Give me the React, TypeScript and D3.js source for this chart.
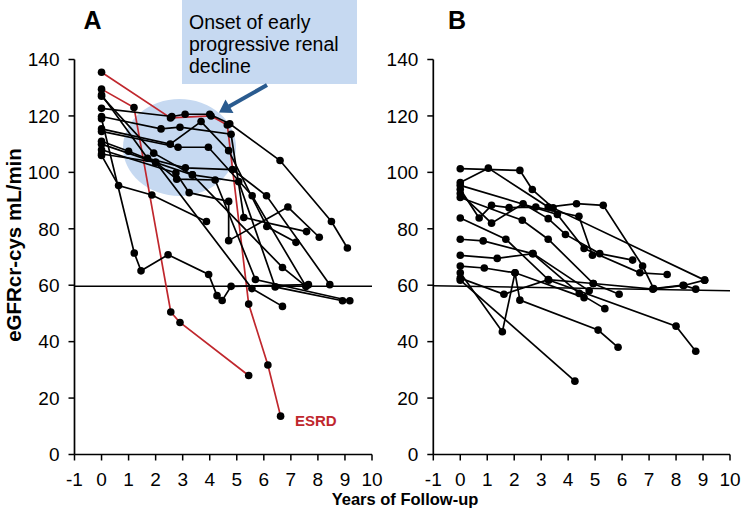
import React from "react";
import * as d3 from "d3";

const W = 745;
const H = 522;
const xTicks = [-1, 0, 1, 2, 3, 4, 5, 6, 7, 8, 9, 10];
const yTicks = [0, 20, 40, 60, 80, 100, 120, 140];
const xTitle = "Years of Follow-up";
const yTitle = "eGFRcr-cys mL/min";
const annotationLines = ["Onset of early", "progressive renal", "decline"];
const esrdLabel = "ESRD";
const thresholdA: [number, number][] = [[-1, 59.6], [10, 59.6]];
const thresholdB: [number, number][] = [[-1, 59.8], [10, 58.0]];

// Panel A, black patients [years, eGFR]
const blackA: [number, number][][] = [
  [[0, 122.7], [2.6, 119.8], [3.09, 120.6], [4.0, 120.6], [4.74, 117.2], [6.6, 104.2], [8.5, 82.6], [9.09, 73.2]],
  [[0, 119.8], [2.2, 115.4], [2.9, 116], [4.79, 113.5], [5.26, 84], [7.58, 79]],
  [[0, 115.4], [2.54, 110], [3.68, 118], [4.7, 107.7], [6.11, 80.8], [7.19, 75.2]],
  [[0, 114.5], [2.83, 108.9], [3.95, 108.9], [5.57, 91.7], [7.56, 59.6]],
  [[0, 127.5], [1.7, 105], [3.1, 101.6], [4.84, 101], [6.1, 91.7], [8.44, 60.2]],
  [[0, 127], [1.93, 106.8], [3.36, 99.1], [5.07, 96.7], [6.42, 59.4], [8.91, 54.5]],
  [[0, 111], [1.0, 107.5], [2.0, 103.6], [2.78, 97.6], [4.2, 97.3], [5.69, 62], [9.18, 54.5]],
  [[0, 108], [2.75, 99.8], [3.24, 92.8], [4.7, 89.7], [4.7, 75.8], [6.89, 87.7], [8.05, 77]],
  [[0, 106], [0.63, 95.3], [1.86, 92], [3.88, 82.6]],
  [[0, 119], [1.21, 71.4], [1.46, 65.1], [2.46, 70.8], [3.96, 63.8], [4.27, 56.3], [4.46, 54.6], [4.79, 59.6], [7.65, 60.2]],
  [[0, 106.5], [2.0, 103.6], [5.56, 58.8], [6.69, 52.5]],
  [[0, 110], [3.36, 99.1], [6.69, 66.3], [7.56, 59.6]],
];

// Panel A, red patients (progressed to ESRD)
const redA: [number, number][][] = [
  [[0, 135.5], [2.55, 119.3], [4.05, 120.0], [4.65, 116.8], [5.44, 53.3], [6.15, 31.7], [6.62, 13.6]],
  [[0, 129.5], [1.2, 123], [2.56, 50.5], [2.9, 46.8], [5.44, 28]],
];

// Panel B patients
const linesB: [number, number][][] = [
  [[0, 101.3], [2.21, 100.7], [2.67, 93.9], [3.44, 87.4], [9.06, 61.8]],
  [[0, 96.4], [1.04, 101.5], [3.26, 87.7], [4.31, 88.9], [5.3, 88.3], [6.76, 66.8], [7.17, 58.8], [8.26, 60], [8.73, 58.6]],
  [[0, 95.4], [3.6, 85.1], [4.59, 73], [6.66, 64.4], [7.67, 63.8]],
  [[0, 94], [0.7, 83.8], [1.16, 88.3], [1.81, 87.5], [2.8, 87.7], [4.4, 84.4], [4.9, 70.6]],
  [[0, 92.5], [1.16, 82], [2.33, 88.9], [3.26, 83.6], [3.9, 78], [5.17, 71.2], [6.39, 68.9]],
  [[0, 91.1], [2.3, 83], [3.26, 76.3], [4.93, 60.6], [5.89, 56.8]],
  [[0, 83.8], [1.69, 76.3], [3.28, 61.8], [8.0, 45.5], [8.73, 36.6]],
  [[0, 76.3], [0.85, 75.7], [2.68, 71.2], [4.41, 57.1], [5.36, 51.7]],
  [[0, 70.6], [1.37, 69.5], [2.7, 71.2], [4.78, 58]],
  [[0, 66.8], [0.89, 66.1], [2.03, 64.4], [4.59, 55.6]],
  [[0, 64.4], [1.56, 43.5], [2.03, 64.4], [2.21, 54.7], [5.11, 44.1], [5.85, 38]],
  [[0, 61.8], [4.25, 26]],
  [[0, 62.5], [1.62, 56.8], [3.26, 62], [4.93, 60.6], [7.14, 58.6], [8.29, 59.9], [9.06, 61.8]],
];

const FONT = "'Liberation Sans', Arial, Helvetica, sans-serif";
const RED = "#c0272d";

const yScale = d3.scaleLinear().domain([0, 140]).range([454.5, 59.5]);
const xA = d3.scaleLinear().domain([-1, 10]).range([74.5, 372]);
const xB = d3.scaleLinear().domain([-1, 10]).range([433.3, 730]);

function Axes({ x }: { x: d3.ScaleLinear<number, number> }) {
  const x0 = x(-1);
  const y0 = yScale(0);
  return (
    <g>
      <line x1={x0} x2={x0} y1={yScale(140)} y2={y0} stroke="#000" strokeWidth={1.7} />
      <line x1={x0} x2={x(10)} y1={y0} y2={y0} stroke="#000" strokeWidth={1.7} />
      {yTicks.map((t) => (
        <g key={"y" + t}>
          <line x1={x0 - 6} x2={x0} y1={yScale(t)} y2={yScale(t)} stroke="#000" strokeWidth={1.5} />
          <text x={x0 - 15} y={yScale(t)} dy="0.36em" textAnchor="end" fontSize={19} fontFamily={FONT} fill="#000">
            {t}
          </text>
        </g>
      ))}
      {xTicks.map((t) => (
        <g key={"x" + t}>
          <line x1={x(t)} x2={x(t)} y1={y0} y2={y0 + 6} stroke="#000" strokeWidth={1.5} />
          <text x={x(t)} y={y0 + 31} textAnchor="middle" fontSize={19} fontFamily={FONT} fill="#000">
            {t}
          </text>
        </g>
      ))}
    </g>
  );
}

function Series({ data, x, color }: { data: [number, number][][]; x: d3.ScaleLinear<number, number>; color: string }) {
  const line = d3
    .line<[number, number]>()
    .x((d) => x(d[0]))
    .y((d) => yScale(d[1]));
  return (
    <g>
      {data.map((s, i) => (
        <path key={"l" + i} d={line(s) || ""} fill="none" stroke={color} strokeWidth={1.7} />
      ))}
      {data.map((s, i) =>
        s.map((d, j) => <circle key={"c" + i + "-" + j} cx={x(d[0])} cy={yScale(d[1])} r={3.8} fill="#000" />)
      )}
    </g>
  );
}

export default function App() {
  const thLine = (x: d3.ScaleLinear<number, number>) =>
    d3
      .line<[number, number]>()
      .x((d) => x(d[0]))
      .y((d) => yScale(d[1]));
  return (
    <div style={{ position: "fixed", left: 0, top: 0 }}>
      <svg width={W} height={H} style={{ display: "block", background: "#fff" }}>
        {/* annotation */}
        <rect x={182} y={0} width={175} height={84} fill="#c6d9f1" />
        {annotationLines.map((t, i) => (
          <text key={t} x={189} y={29 + i * 22.2} fontSize={19.5} fontFamily={FONT} fill="#000">
            {t}
          </text>
        ))}
        <ellipse cx={179.5} cy={147.5} rx={56.5} ry={48.5} fill="#c6d9f1" />

        {/* panel A */}
        <path d={thLine(xA)(thresholdA) || ""} stroke="#000" strokeWidth={1.5} fill="none" />
        <Axes x={xA} />
        <Series data={redA} x={xA} color={RED} />
        <Series data={blackA} x={xA} color="#000" />
        <text x={295} y={426} fontSize={15} fontWeight="bold" fontFamily={FONT} fill={RED}>
          {esrdLabel}
        </text>

        {/* arrow */}
        <line x1={267} y1={85} x2={229} y2={106.5} stroke="#2a5b8f" strokeWidth={4} />
        <polygon points="219,112.5 225.5,99.5 233.5,113" fill="#2a5b8f" />

        {/* panel B */}
        <path d={thLine(xB)(thresholdB) || ""} stroke="#000" strokeWidth={1.5} fill="none" />
        <Axes x={xB} />
        <Series data={linesB} x={xB} color="#000" />

        {/* labels */}
        <text x={92.5} y={28.5} textAnchor="middle" fontSize={25} fontWeight="bold" fontFamily={FONT}>
          A
        </text>
        <text x={457} y={28.5} textAnchor="middle" fontSize={25} fontWeight="bold" fontFamily={FONT}>
          B
        </text>
        <text x={405} y={505} textAnchor="middle" fontSize={16.5} fontWeight="bold" fontFamily={FONT}>
          {xTitle}
        </text>
        <text
          transform="translate(21,245) rotate(-90)"
          textAnchor="middle"
          fontSize={20.5}
          fontWeight="bold"
          fontFamily={FONT}
        >
          {yTitle}
        </text>
      </svg>
    </div>
  );
}
